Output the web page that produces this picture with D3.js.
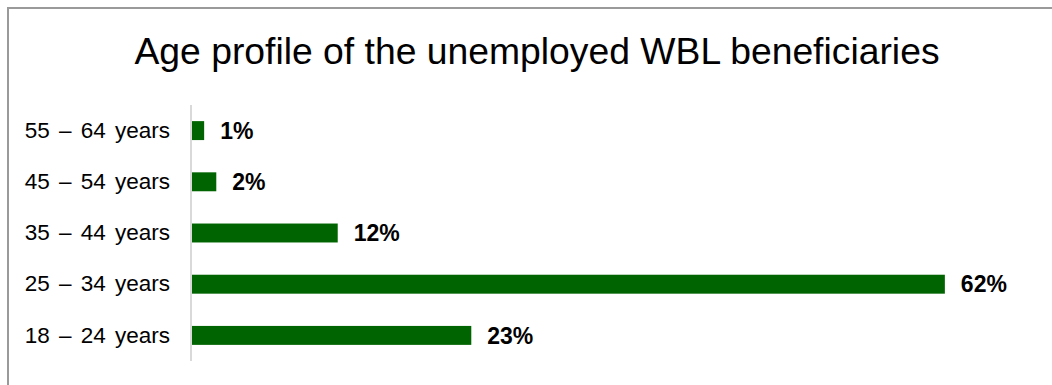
<!DOCTYPE html>
<html>
<head>
<meta charset="utf-8">
<script src="https://cdn.jsdelivr.net/npm/d3@7"></script>
<style>
  html, body { margin: 0; padding: 0; background: #ffffff; }
  svg { display: block; font-family: "Liberation Sans", Arial, sans-serif; }
</style>
</head>
<body>
<svg id="chart" width="1052" height="385"></svg>
<script>
// Age groups, top to bottom as drawn
const categories = ["55 – 64 years", "45 – 54 years", "35 – 44 years", "25 – 34 years", "18 – 24 years"];
// Share of unemployed WBL beneficiaries in each age group (%)
const shares = [1, 2, 12, 62, 23];
const valueLabels = ["1%", "2%", "12%", "62%", "23%"];
const title = "Age profile of the unemployed WBL beneficiaries";

const svg = d3.select("#chart");

// Outer frame (extends past the right and bottom edges)
svg.append("rect")
  .attr("x", 8).attr("y", 8)
  .attr("width", 1100).attr("height", 420)
  .attr("fill", "none")
  .attr("stroke", "#9a9a9a")
  .attr("stroke-width", 2);

svg.append("text")
  .attr("x", 537).attr("y", 64)
  .attr("text-anchor", "middle")
  .attr("font-size", 37.3)
  .attr("fill", "#000")
  .text(title);

const x = d3.scaleLinear().domain([0, 70]).range([192, 1042]);
const y = d3.scaleBand()
  .domain(categories)
  .range([105, 361])
  .paddingInner(0.63)
  .paddingOuter(0.315);

const rows = categories.map((c, i) => ({ cat: c, val: shares[i], label: valueLabels[i] }));

// Bars
svg.append("g").selectAll("rect")
  .data(rows)
  .join("rect")
  .attr("x", x(0))
  .attr("y", d => y(d.cat))
  .attr("width", d => x(d.val) - x(0))
  .attr("height", y.bandwidth())
  .attr("fill", "#006400");

// Category axis
const axis = d3.axisLeft(y).tickSize(0).tickPadding(21);
const gAxis = svg.append("g")
  .attr("transform", `translate(${x(0) - 1},0)`)
  .call(axis);
gAxis.select(".domain")
  .attr("stroke", "#d9d9d9")
  .attr("stroke-width", 2)
  .attr("d", `M0,105V361`);
gAxis.selectAll(".tick text")
  .attr("font-size", 22.5)
  .attr("word-spacing", 3)
  .attr("font-family", "Liberation Sans, Arial, sans-serif")
  .attr("fill", "#000");

// Value labels
svg.append("g").selectAll("text")
  .data(rows)
  .join("text")
  .attr("x", d => x(d.val) + 16)
  .attr("y", d => y(d.cat) + y.bandwidth() / 2)
  .attr("dy", "0.36em")
  .attr("font-size", 23)
  .attr("font-weight", "bold")
  .attr("fill", "#000")
  .text(d => d.label);
</script>
</body>
</html>
